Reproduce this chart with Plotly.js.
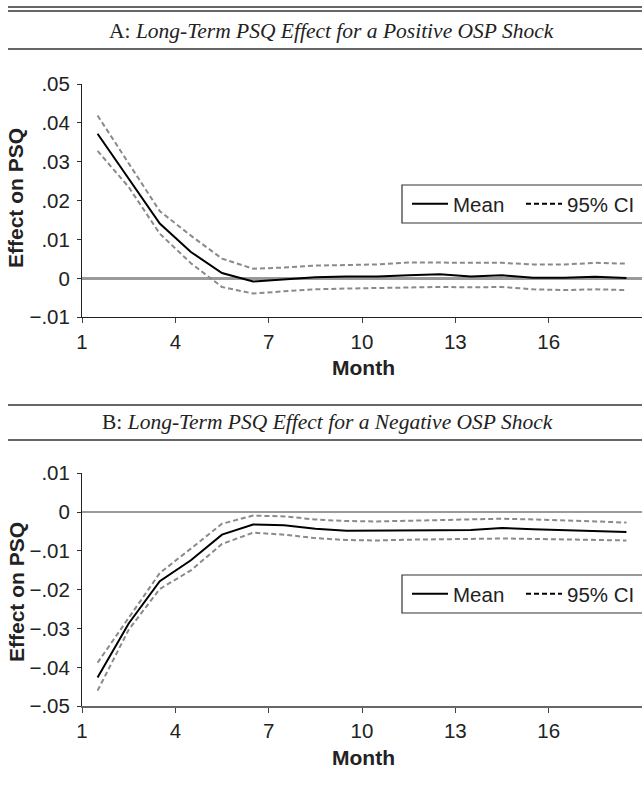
<!DOCTYPE html>
<html>
<head>
<meta charset="utf-8">
<script src="https://cdn.plot.ly/plotly-3.0.1.min.js"></script>
<style>html,body{margin:0;padding:0;background:#fff;overflow:hidden;}#chart{width:642px;height:789px;}</style>
</head>
<body>
<div id="chart"></div>
<script>
// Months (values are plotted at the centre of each month)
const months = [1,2,3,4,5,6,7,8,9,10,11,12,13,14,15,16,17,18];
const monthTicks = [1,4,7,10,13,16];

// Panel A: positive OSP shock
const meanA  = [0.0372, 0.0255, 0.0141, 0.0068, 0.0014, -0.0008, -0.0003, 0.0003, 0.0005, 0.0005, 0.0008, 0.0011, 0.0005, 0.0008, 0.0002, 0.0002, 0.0004, 0.0001];
const upperA = [0.0419, 0.0295, 0.0173, 0.0110, 0.0051, 0.0025, 0.0028, 0.0033, 0.0035, 0.0036, 0.0041, 0.0041, 0.0040, 0.0040, 0.0036, 0.0036, 0.0040, 0.0038];
const lowerA = [0.0328, 0.0235, 0.0115, 0.0039, -0.0022, -0.0039, -0.0033, -0.0028, -0.0026, -0.0025, -0.0024, -0.0022, -0.0023, -0.0022, -0.0028, -0.0030, -0.0028, -0.0030];
const yTicksA = [0.05, 0.04, 0.03, 0.02, 0.01, 0, -0.01];
const yLabelsA = [".05", ".04", ".03", ".02", ".01", "0", "\u2212.01"];

// Panel B: negative OSP shock
const meanB  = [-0.0426, -0.0287, -0.0178, -0.0124, -0.0058, -0.0032, -0.0034, -0.0043, -0.0048, -0.0048, -0.0047, -0.0047, -0.0046, -0.0041, -0.0044, -0.0046, -0.0048, -0.0051];
const upperB = [-0.0388, -0.0272, -0.0157, -0.0094, -0.0030, -0.0009, -0.0011, -0.0019, -0.0023, -0.0024, -0.0022, -0.0020, -0.0019, -0.0017, -0.0019, -0.0021, -0.0024, -0.0027];
const lowerB = [-0.0460, -0.0303, -0.0198, -0.0150, -0.0082, -0.0053, -0.0058, -0.0067, -0.0072, -0.0073, -0.0071, -0.0070, -0.0069, -0.0068, -0.0069, -0.0070, -0.0071, -0.0073];
const yTicksB = [0.01, 0, -0.01, -0.02, -0.03, -0.04, -0.05];
const yLabelsB = [".01", "0", "\u2212.01", "\u2212.02", "\u2212.03", "\u2212.04", "\u2212.05"];

const titleA = "A: <i>Long-Term PSQ Effect for a Positive OSP Shock</i>";
const titleB = "B: <i>Long-Term PSQ Effect for a Negative OSP Shock</i>";

const xc = months.map(m => m + 0.5);
const W = 642, H = 789;
const px = v => v / W;
const py = v => 1 - v / H;

const sans = "Liberation Sans, Arial, sans-serif";
const serif = "Liberation Serif, Times New Roman, serif";
const ciLine = {color: '#8a8a8a', width: 2, dash: '5px,3px'};
const meanLine = {color: '#000', width: 2};

function panel(xa, ya, mean, up, lo, lgMean, lgCI) {
  return [
    {x: xc, y: up, xaxis: xa, yaxis: ya, mode: 'lines', line: ciLine, showlegend: false, hoverinfo: 'skip'},
    {x: xc, y: lo, xaxis: xa, yaxis: ya, mode: 'lines', line: ciLine, showlegend: false, hoverinfo: 'skip'},
    {x: xc, y: mean, xaxis: xa, yaxis: ya, mode: 'lines', line: meanLine, showlegend: false, hoverinfo: 'skip'},
    {x: [null], y: [null], xaxis: xa, yaxis: ya, mode: 'lines', name: 'Mean', line: {color: '#000', width: 2}, legend: lgMean},
    {x: [null], y: [null], xaxis: xa, yaxis: ya, mode: 'lines', name: '95% CI', line: {color: '#000', width: 2, dash: '5px,3px'}, legend: lgCI}
  ];
}

const data = [].concat(
  panel('x', 'y', meanA, upperA, lowerA, 'legend', 'legend2'),
  panel('x2', 'y2', meanB, upperB, lowerB, 'legend3', 'legend4')
);

function xAxis(anchor, lineColor, lineW) {
  return {
    domain: [px(82), 1], range: [1, 19], anchor: anchor,
    tickmode: 'array', tickvals: monthTicks, ticktext: monthTicks.map(String),
    ticks: 'outside', ticklen: 5, tickcolor: '#444', tickwidth: 1,
    showline: true, linecolor: lineColor, linewidth: lineW,
    showgrid: false, zeroline: false, fixedrange: true,
    tickfont: {family: sans, size: 20.5, color: '#222'}, ticklabelstandoff: 1
  };
}
function yAxis(anchor, top, bottom, range, tv, tt, zw) {
  return {
    domain: [py(bottom), py(top)], range: range, anchor: anchor,
    tickmode: 'array', tickvals: tv, ticktext: tt,
    ticks: 'outside', ticklen: 4, tickcolor: '#333', tickwidth: 1,
    showline: true, linecolor: '#222', linewidth: 1,
    showgrid: false, zeroline: true, zerolinecolor: '#9a9a9a', zerolinewidth: zw,
    fixedrange: true,
    tickfont: {family: sans, size: 20.5, color: '#222'}, ticklabelstandoff: 3
  };
}

const hline = (y, w) => ({type: 'line', xref: 'paper', yref: 'paper', x0: px(8), x1: 1, y0: py(y), y1: py(y), line: {color: '#333', width: w}});
const box = (top, bottom) => ({type: 'rect', xref: 'paper', yref: 'paper', x0: px(402), x1: 1.01, y0: py(bottom), y1: py(top), line: {color: '#333', width: 1.2}, fillcolor: 'rgba(0,0,0,0)'});

const lg = (x, y) => ({
  x: px(x), y: py(y),
  orientation: 'h', xanchor: 'left', yanchor: 'middle', bgcolor: 'rgba(0,0,0,0)', borderwidth: 0,
  font: {family: sans, size: 20.5, color: '#222'}, itemwidth: 36
});

const layout = {
  width: W, height: H,
  margin: {l: 0, r: 0, t: 0, b: 0},
  paper_bgcolor: '#fff', plot_bgcolor: 'rgba(0,0,0,0)',
  showlegend: true,
  xaxis: xAxis('y', '#222', 1),
  yaxis: yAxis('x', 84, 317.3, [-0.01, 0.05], yTicksA, yLabelsA, 3),
  xaxis2: xAxis('y2', '#666', 1.5),
  yaxis2: yAxis('x2', 473.3, 706.2, [-0.05, 0.01], yTicksB, yLabelsB, 2),
  legend: lg(407, 204),
  legend2: lg(521, 204),
  legend3: lg(407, 594),
  legend4: lg(521, 594),
  shapes: [hline(7, 1.5), hline(11, 1.5), hline(49, 1.5), hline(405, 1.5), hline(440, 1.5), box(185, 223), box(575, 613)],
  annotations: [
    {text: titleA, xref: 'paper', yref: 'paper', x: px(331), y: py(31), showarrow: false, xanchor: 'center', yanchor: 'middle', font: {family: serif, size: 21.5, color: '#222'}},
    {text: titleB, xref: 'paper', yref: 'paper', x: px(328), y: py(422), showarrow: false, xanchor: 'center', yanchor: 'middle', font: {family: serif, size: 21.5, color: '#222'}},
    {text: '<b>Effect on PSQ</b>', xref: 'paper', yref: 'paper', x: px(16), y: py(198), textangle: -90, showarrow: false, xanchor: 'center', yanchor: 'middle', font: {family: sans, size: 21, color: '#222'}},
    {text: '<b>Effect on PSQ</b>', xref: 'paper', yref: 'paper', x: px(16), y: py(592), textangle: -90, showarrow: false, xanchor: 'center', yanchor: 'middle', font: {family: sans, size: 21, color: '#222'}},
    {text: '<b>Month</b>', xref: 'paper', yref: 'paper', x: px(364), y: py(367), showarrow: false, xanchor: 'center', yanchor: 'middle', font: {family: sans, size: 21, color: '#222'}},
    {text: '<b>Month</b>', xref: 'paper', yref: 'paper', x: px(364), y: py(757), showarrow: false, xanchor: 'center', yanchor: 'middle', font: {family: sans, size: 21, color: '#222'}}
  ]
};

Plotly.newPlot('chart', data, layout, {staticPlot: true, displayModeBar: false});
</script>
</body>
</html>
